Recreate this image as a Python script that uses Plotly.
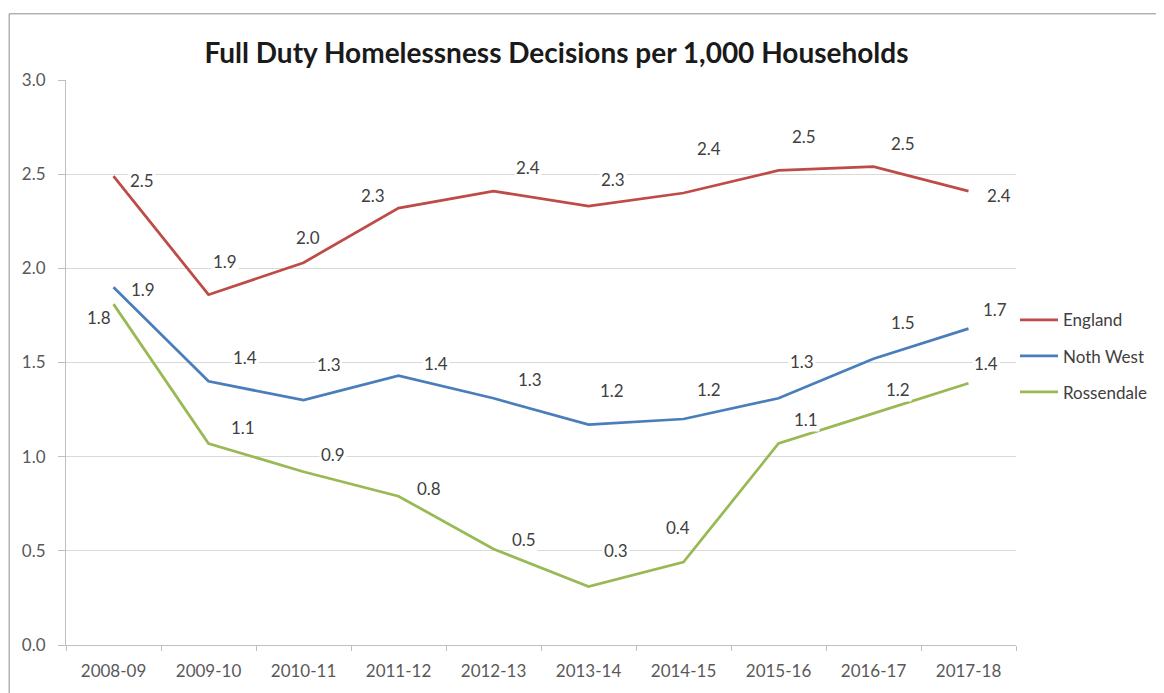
import plotly.graph_objects as go

# ---- data ----
years = ["2008-09", "2009-10", "2010-11", "2011-12", "2012-13",
         "2013-14", "2014-15", "2015-16", "2016-17", "2017-18"]
england = [2.49, 1.86, 2.03, 2.32, 2.41, 2.33, 2.40, 2.52, 2.54, 2.41]
north_west = [1.90, 1.40, 1.30, 1.43, 1.31, 1.17, 1.20, 1.31, 1.52, 1.68]
rossendale = [1.81, 1.07, 0.92, 0.79, 0.51, 0.31, 0.44, 1.07, 1.23, 1.39]
series_names = ["England", "Noth West", "Rossendale"]
y_ticks = [0.0, 0.5, 1.0, 1.5, 2.0, 2.5, 3.0]

# ---- styling ----
colors = ["#BE4B48", "#4A7EBB", "#98B954"]
FONT = "Lato"
# label offsets in px (dx, dy up) per point, per series
label_offsets = [
    [(28, -4), (16, 33), (4, 25), (-26, 13), (34, 24), (24, 27), (25, 45), (25, 34), (29, 23), (30, -4)],
    [(29, -2), (36, 24), (25, 36), (37, 12), (36, 19), (23, 34), (25, 30), (23, 37), (29, 36), (26, 19)],
    [(-15, -13), (34, 16), (29, 17), (30, 8), (30, 9), (27, 36), (-6, 35), (27, 24), (24, 24), (17, 20)],
]

fig = go.Figure()
all_series = [england, north_west, rossendale]
for name, vals, col in zip(series_names, all_series, colors):
    fig.add_trace(go.Scatter(
        x=years, y=vals, mode="lines", name=name, legendgroup=name,
        line=dict(color=col, width=2.75),
    ))

annotations = []
for vals, offs in zip(all_series, label_offsets):
    for xv, yv, (dx, dy) in zip(years, vals, offs):
        annotations.append(dict(
            x=xv, y=yv, xref="x", yref="y", text=f"{yv:.1f}", showarrow=False,
            xshift=dx, yshift=dy, bgcolor="white", borderpad=1,
            font=dict(family=FONT, size=17, color="#404040"),
        ))

# the page body adds an 8px offset, so the figure is 8px smaller each way
OFF = 8
W, H = 1164 - OFF, 693 - OFF
ml, mr, mt, mb = 66 - OFF, 145, 80 - OFF, 41
pw, ph = W - ml - mr, H - mt - mb

fig.update_layout(
    width=W, height=H,
    margin=dict(l=ml, r=mr, t=mt, b=mb),
    paper_bgcolor="white", plot_bgcolor="white",
    font=dict(family=FONT, size=17, color="#595959"),
    title=dict(text="<b>Full Duty Homelessness Decisions per 1,000 Households</b>",
               x=(558 - OFF - ml) / pw, xref="paper", xanchor="center",
               y=1 - (53 - OFF) / H, yanchor="middle",
               font=dict(family=FONT, size=28, color="#1a1a1a")),
    xaxis=dict(type="category", range=[-0.5, 9.5], showgrid=False,
               showline=True, linecolor="#bfbfbf", linewidth=1,
               ticks="outside", ticklen=5, tickcolor="#bfbfbf",
               tickson="boundaries", ticklabelstandoff=11,
               tickfont=dict(family=FONT, size=17, color="#595959")),
    yaxis=dict(range=[0, 3.0], tickvals=y_ticks,
               ticktext=[f"{v:.1f}" for v in y_ticks],
               showgrid=True, gridcolor="#d9d9d9", gridwidth=1,
               showline=True, linecolor="#bfbfbf", linewidth=1,
               ticks="outside", ticklen=7, tickcolor="#bfbfbf",
               ticklabelstandoff=9, zeroline=False,
               tickfont=dict(family=FONT, size=17, color="#595959")),
    legend=dict(x=(1018 - 66) / pw, xanchor="left", y=(652 - 305) / ph, yanchor="top",
                font=dict(family=FONT, size=17, color="#404040"),
                tracegroupgap=11, itemwidth=38, bgcolor="rgba(0,0,0,0)"),
    annotations=annotations,
    shapes=[dict(type="rect", xref="paper", yref="paper",
                 x0=(9 - 66) / pw, x1=1.3, y0=-0.2, y1=(652 - 13) / ph,
                 line=dict(color="#8c8c8c", width=1), fillcolor="rgba(0,0,0,0)",
                 layer="below")],
)

fig.write_html("out.html")
